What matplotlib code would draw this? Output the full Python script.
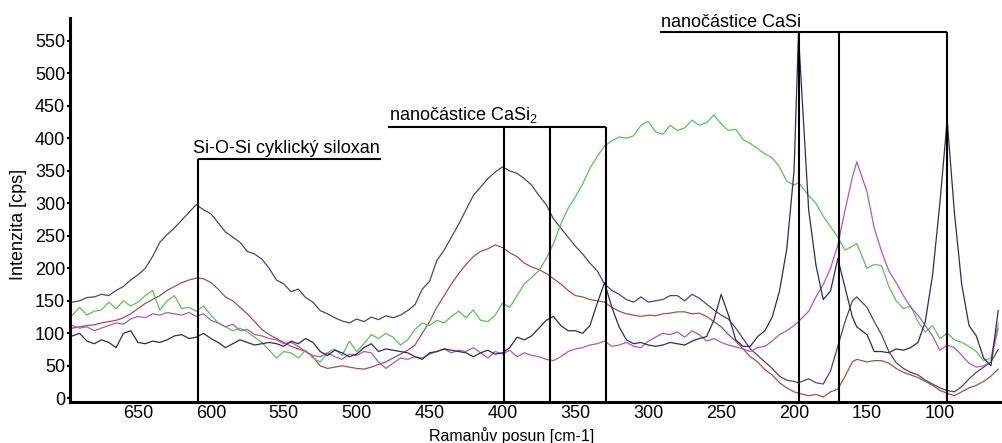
import matplotlib
matplotlib.use("Agg")
import matplotlib.pyplot as plt

plt.rcParams["font.family"] = ["Liberation Sans", "DejaVu Sans"]
plt.rcParams["mathtext.fontset"] = "custom"
plt.rcParams["mathtext.rm"] = "Liberation Sans"

# Raman shift grid [cm-1]
raman_shift = [
    695, 690, 685, 680, 675, 670, 665, 660, 655, 650,
    645, 640, 635, 630, 625, 620, 615, 610, 605, 600,
    595, 590, 585, 580, 575, 570, 565, 560, 555, 550,
    545, 540, 535, 530, 525, 520, 515, 510, 505, 500,
    495, 490, 485, 480, 475, 470, 465, 460, 455, 450,
    445, 440, 435, 430, 425, 420, 415, 410, 405, 400,
    395, 390, 385, 380, 375, 370, 365, 360, 355, 350,
    345, 340, 335, 330, 325, 320, 315, 310, 305, 300,
    295, 290, 285, 280, 275, 270, 265, 260, 255, 250,
    245, 240, 235, 230, 225, 220, 215, 210, 205, 200,
    197, 190, 185, 180, 175, 170, 165, 160, 157, 150,
    145, 140, 135, 130, 125, 120, 115, 110, 105, 100,
    95, 90, 85, 80, 75, 70, 65, 60,
]

# Intensities [cps] of the five spectra
spectrum_purple = [
    148, 150, 155, 156, 160, 158, 166, 172, 182, 190,
    200, 218, 240, 252, 262, 274, 286, 298, 290, 284,
    270, 256, 248, 240, 226, 222, 214, 200, 182, 176,
    164, 168, 155, 148, 135, 130, 124, 119, 116, 122,
    118, 125, 121, 127, 124, 128, 135, 144, 168, 180,
    212, 228, 248, 268, 290, 312, 325, 338, 348, 356,
    350, 346, 338, 328, 312, 298, 276, 262, 248, 234,
    222, 208, 196, 176, 166, 160, 152, 148, 156, 148,
    150, 152, 158, 158, 150, 160, 154, 145, 136, 128,
    122, 108, 92, 76, 66, 56, 46, 34, 28, 26,
    24, 30, 24, 22, 42, 80, 118, 150, 156, 140,
    118, 98, 72, 55, 46, 40, 36, 28, 22, 16,
    12, 10, 18, 30, 40, 48, 56, 75,
]
spectrum_brown = [
    108, 110, 112, 113, 116, 118, 120, 124, 130, 138,
    146, 152, 158, 166, 172, 178, 182, 185, 184, 178,
    168, 156, 150, 140, 130, 118, 106, 98, 92, 86,
    80, 76, 72, 64, 50, 46, 48, 50, 48, 46,
    45, 48, 52, 56, 62, 68, 74, 82, 100, 118,
    140, 158, 176, 192, 206, 218, 226, 230, 236, 232,
    224, 218, 208, 202, 198, 192, 184, 176, 166, 158,
    156, 152, 150, 148, 140, 134, 130, 128, 126, 128,
    127, 130, 131, 133, 133, 130, 131, 126, 118, 110,
    98, 88, 76, 64, 56, 44, 36, 24, 16, 10,
    8, 4, 6, 2, 10, 14, 34, 56, 60, 56,
    58, 58, 54, 46, 40, 36, 32, 26, 20, 12,
    8, 4, 10, 16, 20, 26, 34, 45,
]
spectrum_green = [
    128, 140, 128, 134, 136, 148, 138, 150, 142, 148,
    158, 166, 136, 150, 158, 138, 140, 134, 142, 128,
    116, 110, 104, 108, 102, 94, 86, 74, 62, 72,
    70, 62, 74, 62, 56, 70, 76, 66, 88, 72,
    84, 98, 92, 100, 94, 82, 90, 106, 116, 112,
    120, 116, 126, 134, 124, 136, 120, 118, 128, 146,
    140, 158, 176, 186, 196, 215, 238, 268, 292, 310,
    330, 354, 372, 388, 396, 402, 400, 404, 420, 426,
    410, 406, 420, 412, 416, 428, 420, 424, 436, 422,
    412, 414, 398, 392, 384, 376, 370, 356, 334, 328,
    332, 312, 300, 280, 264, 248, 228, 234, 238, 200,
    206, 204, 172, 150, 138, 142, 118, 102, 112, 92,
    100, 90, 86, 80, 72, 58, 62, 115,
]
spectrum_magenta = [
    112, 108, 110, 104, 108, 112, 116, 114, 122, 126,
    124, 130, 128, 132, 130, 128, 132, 126, 130, 120,
    116, 110, 114, 104, 106, 98, 96, 92, 90, 84,
    86, 80, 72, 66, 64, 70, 64, 60, 68, 66,
    72, 70, 56, 46, 54, 62, 60, 64, 62, 68,
    72, 76, 70, 74, 72, 78, 70, 62, 72, 68,
    74, 64, 70, 66, 64, 60, 58, 64, 72, 76,
    78, 82, 84, 88, 80, 82, 86, 80, 78, 88,
    94, 100, 98, 102, 94, 104, 98, 88, 92, 86,
    82, 79, 76, 72, 78, 80, 88, 98, 104, 112,
    118, 134, 156, 175, 200, 236, 290, 340, 364, 318,
    262, 226, 196, 178, 158, 140, 128, 112, 96, 74,
    82, 78, 66, 54, 48, 50, 56, 108,
]
spectrum_navy = [
    96, 100, 88, 84, 90, 86, 78, 100, 104, 86,
    84, 88, 86, 90, 96, 98, 92, 94, 100, 92,
    86, 78, 84, 90, 86, 82, 84, 86, 84, 80,
    88, 84, 92, 86, 72, 66, 74, 70, 64, 68,
    78, 84, 72, 76, 74, 72, 70, 64, 60, 70,
    72, 76, 74, 72, 70, 64, 70, 74, 68, 70,
    78, 94, 90, 96, 108, 120, 126, 112, 104, 104,
    100, 112, 146, 178, 140, 110, 90, 84, 86, 82,
    80, 82, 86, 84, 82, 88, 92, 95, 120, 160,
    128, 90, 80, 80, 95, 104, 125, 165, 230, 350,
    560, 290, 205, 152, 165, 215, 170, 125, 110, 98,
    72, 72, 70, 76, 74, 78, 86, 118, 190, 300,
    428, 285, 175, 112, 96, 62, 50, 135,
]

series = [
    (spectrum_purple, "#5b4069"),
    (spectrum_brown, "#a0524c"),
    (spectrum_green, "#5cc25c"),
    (spectrum_magenta, "#b257c0"),
    (spectrum_navy, "#2c2e55"),
]

# Band assignments: label, peak positions, bracket height, bracket end, label anchor
bands = [
    ("Si-O-Si cyklický siloxan", [608.8], 368, 483, (612, 378)),
    (r"nanočástice CaSi$_\mathregular{2}$", [399, 367.4, 329], 417, 478.5, (478, 428)),
    ("nanočástice CaSi", [196.6, 169.2, 95.1], 563.5, 292, (291, 571)),
]

x_ticks = [650, 600, 550, 500, 450, 400, 350, 300, 250, 200, 150, 100]
y_ticks = [0, 50, 100, 150, 200, 250, 300, 350, 400, 450, 500, 550]

fig = plt.figure(figsize=(10.03, 4.43), dpi=100)
ax = fig.add_axes([0.0698, 0.0932, 0.9302, 0.8655])

for values, color in series:
    ax.plot(raman_shift, values, color=color, lw=0.9, zorder=2)

y_bottom = -5.2
for label, peaks, level, end, (tx, ty) in bands:
    xs = peaks + [end]
    ax.hlines(level, min(xs), max(xs), color="black", lw=1.5, zorder=3)
    ax.vlines(peaks, y_bottom, level, color="black", lw=1.5, zorder=3)
    ax.text(tx, ty, label, fontsize=13, ha="left", va="baseline", zorder=4)

ax.set_xlim(696.6, 56.7)
ax.set_ylim(y_bottom, 584.6)
ax.set_xticks(x_ticks)
ax.set_yticks(y_ticks)

for side in ("top", "right"):
    ax.spines[side].set_visible(False)
for side in ("left", "bottom"):
    ax.spines[side].set_linewidth(2.2)
    ax.spines[side].set_color("black")

ax.tick_params(axis="y", length=2.5, width=1.5, pad=1, labelsize=13)
ax.tick_params(axis="x", length=0, pad=2.5, labelsize=13)

ax.set_xlabel("Ramanův posun [cm-1]", fontsize=11.5, va="center")
ax.xaxis.set_label_coords((512 - 70) / 933, (401.7 - 436) / 383.4)
ax.set_ylabel("Intenzita [cps]", fontsize=13, va="center")
ax.yaxis.set_label_coords((18 - 70) / 933, (401.7 - 224) / 383.4)

fig.savefig("out.png", dpi=100)
